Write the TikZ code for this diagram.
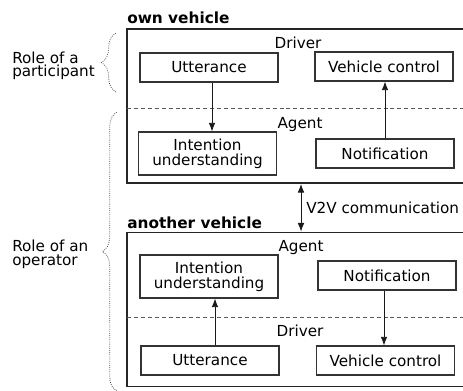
\documentclass[tikz,border=0pt]{standalone}
\usepackage{fontspec}
\setmainfont{DejaVu Sans}
\usetikzlibrary{arrows.meta,decorations.pathreplacing}
\begin{document}
\begin{tikzpicture}[x=0.75pt,y=-0.75pt,
  every node/.style={font=\fontsize{11.4pt}{11.25pt}\selectfont, inner sep=0pt},
  outerbox/.style={draw=black!85, line width=1.3pt, minimum width=257.25pt, minimum height=115.5pt},
  inbox/.style={draw=black!80, line width=0.8pt, minimum width=103.5pt, minimum height=21.75pt, align=center},
  tallbox/.style={inbox, minimum height=32.25pt},
  arr/.style={-{Latex[length=6.5pt,width=5pt]}, line width=0.7pt, black!90},
  darr/.style={{Latex[length=6.5pt,width=5pt]}-{Latex[length=6.5pt,width=5pt]}, line width=0.7pt, black!90},
  sep/.style={draw=black!65, line width=0.6pt, dash pattern=on 3pt off 2.2pt},
  bracestyle/.style={draw=black!70, line width=0.6pt, densely dotted, decorate, decoration={brace, amplitude=11pt}},
  lab/.style={align=left, font=\fontsize{11.4pt}{10pt}\selectfont},
  title/.style={font=\fontsize{11.5pt}{11.5pt}\selectfont\bfseries, anchor=base west}
]
\useasboundingbox (0,0) rectangle (463,390);
\clip (0,0) rectangle (463,390);

% outer boxes
\node[outerbox] (own) at (298.5,106) {};
\node[outerbox] (other) at (298.5,309.5) {};

\node[title] (ownt) at (127,23) {own vehicle};
\node[title] (othert) at (127,228) {another vehicle};

% separators
\coordinate (s1a) at (127,108);
\coordinate (s1b) at (470,108);
\coordinate (s2a) at (127,317);
\coordinate (s2b) at (470,317);
\draw[sep] (s1a) -- (s1b);
\draw[sep] (s2a) -- (s2b);

% layer labels
\node[anchor=base] (drv1) at (298,48) {Driver};
\node[anchor=base] (agt1) at (300,128) {Agent};
\node[anchor=base] (agt2) at (301,251) {Agent};
\node[anchor=base] (drv2) at (300,336) {Driver};

% top boxes
\node[inbox] (u1) at (209,67.5) {Utterance};
\node[inbox] (vc1) at (384,66.5) {Vehicle control};
\node[tallbox] (iu1) at (207.5,153.5) {Intention\\understanding};
\node[inbox] (n1) at (385,153.5) {Notification};

% bottom boxes
\node[tallbox] (iu2) at (209,276.5) {Intention\\understanding};
\node[inbox] (n2) at (387,275.5) {Notification};
\node[inbox] (u2) at (210,360.5) {Utterance};
\node[inbox] (vc2) at (385.5,360.5) {Vehicle control};

% arrows
\coordinate (xa) at (212,0);
\coordinate (xb) at (385,0);
\coordinate (xc) at (215,0);
\coordinate (xd) at (384,0);
\coordinate (xv) at (301,0);
\draw[arr] (u1.south -| xa) -- (iu1.north -| xa);
\draw[arr] (n1.north -| xb) -- (vc1.south -| xb);
\draw[arr] (u2.north -| xc) -- (iu2.south -| xc);
\draw[arr] (n2.south -| xd) -- (vc2.north -| xd);
\draw[darr] (own.south -| xv) -- (other.north -| xv);
\node[anchor=base west] (v2v) at (306,213.5) {V2V communication};

% braces
\coordinate (b1a) at (116,92);
\coordinate (b1b) at (116,33);
\coordinate (b2a) at (117,391);
\coordinate (b2b) at (117,112);
\draw[bracestyle] (b1a) -- (b1b);
\draw[bracestyle] (b2a) -- (b2b);

\node[lab, anchor=west] (rp) at (12,66) {Role of a\\participant};
\node[lab, anchor=west] (ro) at (12,254.4) {Role of an\\operator};
\end{tikzpicture}
\end{document}
